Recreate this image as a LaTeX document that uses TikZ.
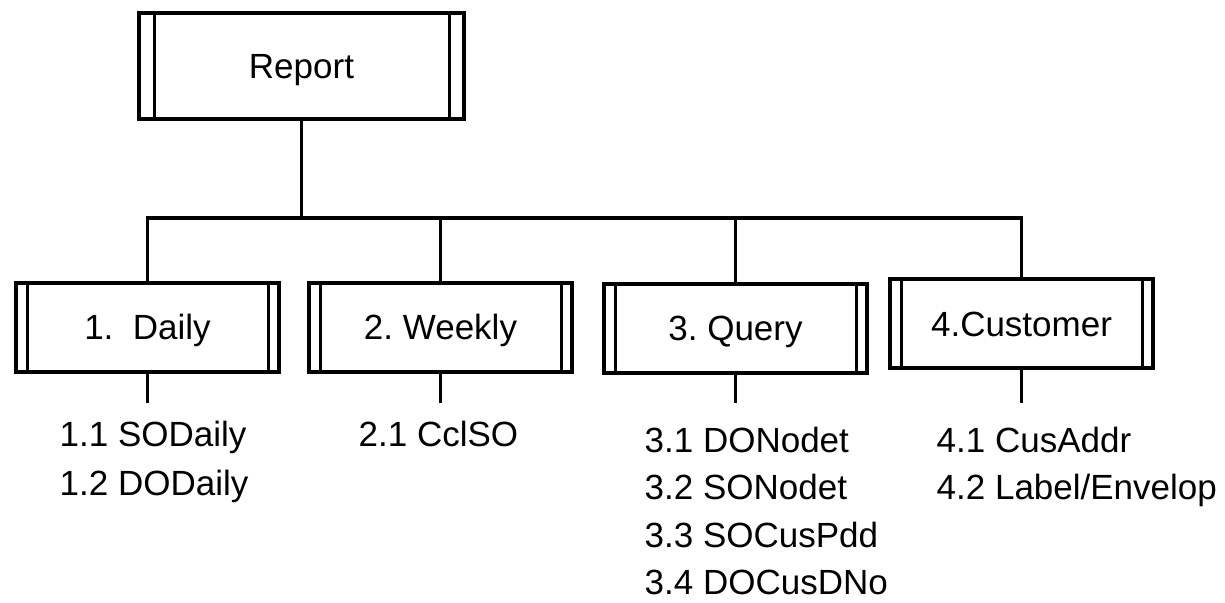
\documentclass[tikz,border=0pt]{standalone}
\usepackage{fontspec}
\setmainfont{Liberation Sans}

\begin{document}
\begin{tikzpicture}[x=0.5pt,y=-0.5pt,
  font=\fontsize{17.5}{21}\selectfont\frenchspacing,
  line width=1.7pt,
  module/.style={draw,line width=2pt,inner sep=0pt,
    minimum width=131.5pt,minimum height=44.5pt,
    text height=12.5pt,text depth=0pt,
    path picture={\draw[line width=1.5pt]
      ([xshift=#1]path picture bounding box.south west) -- ([xshift=#1]path picture bounding box.north west)
      ([xshift=-#1]path picture bounding box.south east) -- ([xshift=-#1]path picture bounding box.north east);}},
  module/.default=5.5pt,
  topmodule/.style={module=7.5pt,minimum width=162.5pt,minimum height=53pt},
  item/.style={anchor=base west,inner sep=0pt}]
  \useasboundingbox (0,0) rectangle (1225,603);

  \node[topmodule] (report) at (301.5,66) {Report};
  \node[module] (daily) at (147.5,327.5) {1.~ Daily};
  \node[module] (weekly) at (440.5,327.5) {2. Weekly};
  \node[module] (query) at (735.5,328.5) {3. Query};
  \node[module] (customer) at (1021.5,324) {4.Customer};

  \coordinate (bus) at (300,218);
  \coordinate (tip) at (0,403);

  \draw (report.south) -- (report.south |- bus);
  \draw (daily.north) |- (bus) -| (customer.north);
  \draw (weekly.north) -- (weekly.north |- bus)
    (query.north) -- (query.north |- bus);
  \draw (daily.south) -- (daily.south |- tip)
    (weekly.south) -- (weekly.south |- tip)
    (query.south) -- (query.south |- tip)
    (customer.south) -- (customer.south |- tip);

  \node[item] (sodaily) at (58,447) {1.1 SODaily};
  \node[item] (dodaily) at (58,495) {1.2 DODaily};
  \node[item] (cclso) at (357,447) {2.1 CclSO};
  \node[item] (dodet) at (643,453) {3.1 DONodet};
  \node[item] (sodet) at (643,500) {3.2 SONodet};
  \node[item] (socus) at (643,547) {3.3 SOCusPdd};
  \node[item] (docus) at (643,594) {3.4 DOCusDNo};
  \node[item] (cusaddr) at (935,453) {4.1 CusAddr};
  \node[item] (envelop) at (935,500) {4.2 Label/Envelop};
\end{tikzpicture}
\end{document}
